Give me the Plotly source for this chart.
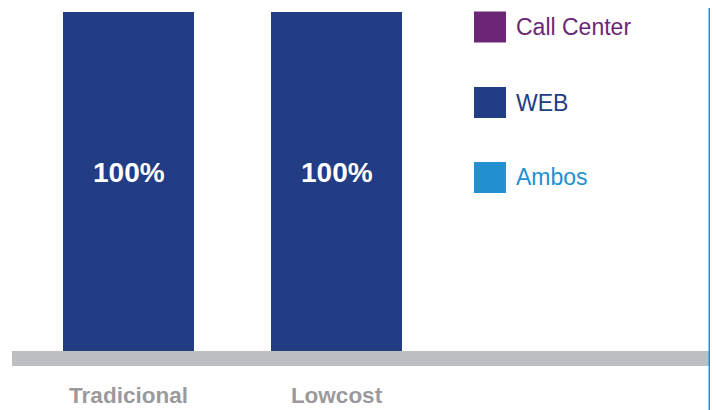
import plotly.graph_objects as go

# data
categories = ["Tradicional", "Lowcost"]
call_center = [0, 0]
web = [100, 100]
ambos = [0, 0]
value_labels = ["100%", "100%"]
legend_names = ["Call Center", "WEB", "Ambos"]

colors = {"Call Center": "#6C2676", "WEB": "#223D84", "Ambos": "#2390D2"}

# the page body adds an 8px margin, so work in figure pixels
OFF = 8
W, H = 718 - OFF, 410 - OFF
top, bottom = 12 - OFF, 351 - OFF   # plot area in figure pixels
ph = bottom - top
step = 208.0                         # pixels between bar centres
x0_px = 128.5 - OFF                  # centre of first bar

fig = go.Figure()
for name, vals in zip(legend_names, [call_center, web, ambos]):
    fig.add_trace(
        go.Bar(
            x=categories,
            y=vals,
            name=name,
            marker=dict(color=colors[name], line=dict(width=0)),
            width=131 / step,
            showlegend=False,
            hoverinfo="skip",
        )
    )

annotations = []
# value labels sit a little above the middle of the bar
for cat, v, lab in zip(categories, web, value_labels):
    annotations.append(dict(x=cat, y=v * 0.528, text=lab, showarrow=False,
                            xanchor="center", yanchor="middle",
                            font=dict(family="Liberation Sans", size=28,
                                      color="white", weight="bold")))

shapes = [
    # grey base band
    dict(type="rect", xref="paper", yref="paper",
         x0=(12 - OFF) / W, x1=(710 - OFF) / W, y0=-15 / ph, y1=0,
         fillcolor="#BDBEC0", line=dict(width=0), layer="below"),
    # blue rule on the right edge
    dict(type="line", xref="paper", yref="paper",
         x0=(710 - OFF) / W, x1=(710 - OFF) / W, y0=-0.18, y1=1.02,
         line=dict(color="#2390D2", width=3)),
]

# hand-drawn legend: big squares with coloured labels
legend_y = [27, 102.5, 177.5]
for name, cy in zip(legend_names, legend_y):
    yp = (bottom - (cy - OFF)) / ph
    half = 15.5 / ph
    shapes.append(dict(type="rect", xref="paper", yref="paper",
                       x0=(474 - OFF) / W, x1=(506 - OFF) / W, y0=yp - half, y1=yp + half,
                       fillcolor=colors[name], line=dict(width=0)))
    annotations.append(dict(xref="paper", yref="paper", x=(514 - OFF) / W, y=yp,
                            text=name, showarrow=False, xanchor="left", yanchor="middle",
                            font=dict(family="Liberation Sans", size=23, color=colors[name])))

fig.update_layout(
    width=W, height=H,
    barmode="stack",
    margin=dict(l=0, r=0, t=top, b=H - bottom),
    paper_bgcolor="white", plot_bgcolor="white",
    shapes=shapes,
    annotations=annotations,
    xaxis=dict(range=[-x0_px / step, (W - x0_px) / step], showgrid=False, zeroline=False,
               showline=False, ticks="", ticklabelstandoff=28,
               tickfont=dict(family="Liberation Sans", size=22.5, color="#9A9A9C", weight="bold")),
    yaxis=dict(range=[0, 100], visible=False, fixedrange=True),
)

fig.write_html("out.html")
